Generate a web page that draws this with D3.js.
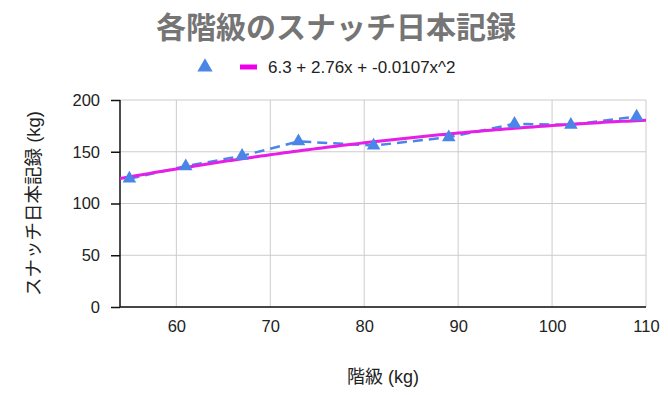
<!DOCTYPE html>
<html>
<head>
<meta charset="utf-8">
<script src="https://cdn.jsdelivr.net/npm/d3@7"></script>
<style>
  body { margin: 0; background: #fff; }
  svg { display: block; font-family: "Liberation Sans", Arial, "Noto Sans CJK JP", sans-serif; }
</style>
</head>
<body>
<svg id="chart" width="668" height="395"></svg>
<script>
// weight classes and snatch records
const classes = [55, 61, 67, 73, 81, 89, 96, 102, 109];
const records = [124, 136, 146, 160, 156, 164, 177, 176, 184];
const trendCoef = [6.3, 2.76, -0.0107];
const xTicks = [60, 70, 80, 90, 100, 110];
const yTicks = [0, 50, 100, 150, 200];

const W = 668, H = 395;
const m = { left: 120, right: 22, top: 100, bottom: 88 };
const svg = d3.select("#chart");

const x = d3.scaleLinear().domain([54, 110]).range([m.left, W - m.right]);
const y = d3.scaleLinear().domain([0, 200]).range([H - m.bottom, m.top]);

// title
svg.append("text").attr("x", 336).attr("y", 38).attr("text-anchor", "middle")
  .attr("font-size", 30).attr("font-weight", "bold").attr("fill", "#757575")
  .attr("font-family", "'Noto Sans CJK JP', sans-serif")
  .text("各階級のスナッチ日本記録");

// legend
const tri = d3.symbol().type(d3.symbolTriangle);
svg.append("path").attr("d", tri.size(100)()).attr("transform", "translate(205,67)").attr("fill", "#4a86e8");
svg.append("line").attr("x1", 240).attr("x2", 257).attr("y1", 67).attr("y2", 67)
  .attr("stroke", "#ee00ee").attr("stroke-width", 5);
svg.append("text").attr("x", 268).attr("y", 73).attr("font-size", 17).attr("fill", "#222")
  .text(`${trendCoef[0]} + ${trendCoef[1]}x + ${trendCoef[2]}x^2`);

// grid
const grid = svg.append("g");
grid.selectAll(".gx").data(xTicks).enter().append("line")
  .attr("x1", d => x(d)).attr("x2", d => x(d)).attr("y1", m.top).attr("y2", H - m.bottom)
  .attr("stroke", "#cccccc").attr("stroke-width", 1);
grid.selectAll(".gy").data(yTicks).enter().append("line")
  .attr("x1", m.left).attr("x2", W - m.right).attr("y1", d => y(d)).attr("y2", d => y(d))
  .attr("stroke", "#cccccc").attr("stroke-width", 1);

// axes
const yAxis = svg.append("g").attr("transform", `translate(${m.left},0)`)
  .call(d3.axisLeft(y).tickValues(yTicks).tickSize(9).tickPadding(11));
yAxis.select(".domain").remove();
yAxis.selectAll(".tick line").attr("stroke", "#111").attr("stroke-width", 1.5);
yAxis.selectAll("text").attr("font-size", 16.5).attr("fill", "#222").attr("font-family", "'Liberation Sans', Arial, sans-serif");
svg.append("line").attr("x1", m.left).attr("x2", m.left).attr("y1", m.top).attr("y2", H - m.bottom)
  .attr("stroke", "#111").attr("stroke-width", 1.5);

const xAxis = svg.append("g").attr("transform", `translate(0,${H - m.bottom})`)
  .call(d3.axisBottom(x).tickValues(xTicks).tickSize(0).tickPadding(13));
xAxis.select(".domain").remove();
xAxis.selectAll("text").attr("font-size", 16.5).attr("fill", "#222").attr("font-family", "'Liberation Sans', Arial, sans-serif");
svg.append("line").attr("x1", m.left).attr("x2", W - m.right).attr("y1", H - m.bottom).attr("y2", H - m.bottom)
  .attr("stroke", "#111").attr("stroke-width", 1.5);

// axis titles
svg.append("text").attr("x", x(82)).attr("y", 383).attr("text-anchor", "middle")
  .attr("font-size", 18).attr("fill", "#222").text("階級 (kg)");
svg.append("text").attr("transform", `translate(40,${(m.top + H - m.bottom) / 2}) rotate(-90)`)
  .attr("text-anchor", "middle").attr("font-size", 18.5).attr("fill", "#222")
  .text("スナッチ日本記録 (kg)");

// data line (dashed)
const pts = classes.map((c, i) => [c, records[i]]);
svg.append("path").datum(pts)
  .attr("d", d3.line().x(d => x(d[0])).y(d => y(d[1])))
  .attr("fill", "none").attr("stroke", "#4a86e8").attr("stroke-width", 2.5)
  .attr("stroke-dasharray", "10,6");

// trend line
const trend = x.ticks(112).filter(v => v >= 54 && v <= 110);
const f = v => trendCoef[0] + trendCoef[1] * v + trendCoef[2] * v * v;
svg.append("path").datum(trend)
  .attr("d", d3.line().x(d => x(d)).y(d => y(f(d))))
  .attr("fill", "none").attr("stroke", "#e61ee6").attr("stroke-width", 3);

// markers
svg.selectAll(".pt").data(pts).enter().append("path")
  .attr("d", tri.size(80)()).attr("transform", d => `translate(${x(d[0])},${y(d[1])})`)
  .attr("fill", "#4a86e8");
</script>
</body>
</html>
